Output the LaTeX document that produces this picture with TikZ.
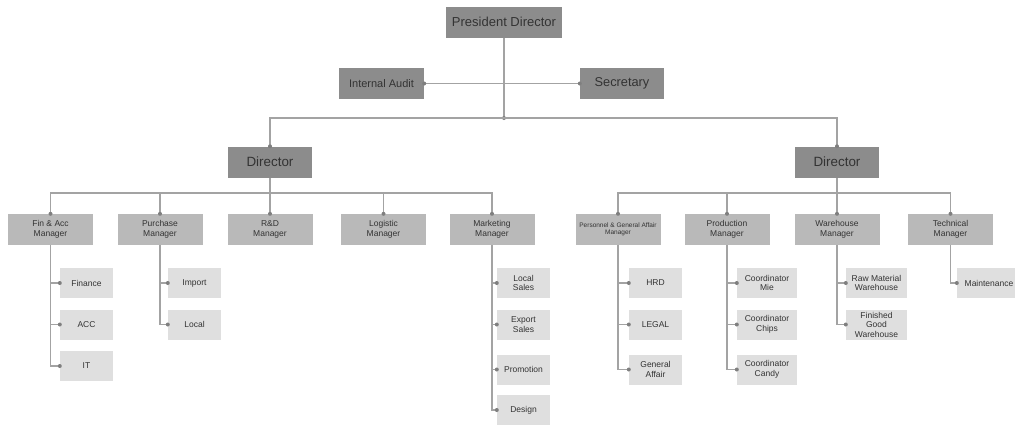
\documentclass[tikz,border=0pt]{standalone}
\usepackage{fontspec}
\setmainfont{Liberation Sans}
\definecolor{darkbox}{HTML}{8C8C8C}
\definecolor{midbox}{HTML}{B9B9B9}
\definecolor{lightbox}{HTML}{DFDFDF}
\definecolor{linec}{HTML}{A3A3A3}
\definecolor{dotc}{HTML}{7F7F7F}
\definecolor{txt}{HTML}{333333}
\tikzset{
  topbox/.style={fill=darkbox, text=txt, inner sep=0pt, minimum height=31pt, align=center},
  mgrbox/.style={fill=midbox, text=txt, inner sep=0pt, minimum width=85pt, minimum height=31pt, align=center, font=\fontsize{8.5}{9.5}\selectfont},
  subbox/.style={fill=lightbox, text=txt, inner sep=0pt, minimum height=30pt, align=center, font=\fontsize{8.5}{9.5}\selectfont},
  conn/.style={draw=linec, line width=1.3pt},
  enddot/.style={circle, fill=dotc, inner sep=0pt, minimum size=4pt},
}
\begin{document}
\begin{tikzpicture}[x=1pt, y=-1pt]
\useasboundingbox (0,0) rectangle (1015,424);
\clip (0,0) rectangle (1015,424);
\fill[white] (0,0) rectangle (1015,424);

% top level
\node[topbox, minimum width=116pt, font=\fontsize{13}{15}\selectfont] (pres) at (504,22) {President Director};
\node[topbox, minimum width=85pt, font=\fontsize{11}{13}\selectfont] (audit) at (381.5,83.5) {Internal Audit};
\node[topbox, minimum width=84pt, font=\fontsize{12.8}{15}\selectfont] (sec) at (622,83.5) {Secretary};
\node[topbox, minimum width=84pt, font=\fontsize{13.4}{15}\selectfont] (dirL) at (270,162) {Director};
\node[topbox, minimum width=84pt, font=\fontsize{13.4}{15}\selectfont] (dirR) at (837,162) {Director};

% managers
\node[mgrbox] (fin) at (50.5,229.5) {Fin \& Acc\\Manager};
\node[mgrbox] (pur) at (160,229.5) {Purchase\\Manager};
\node[mgrbox] (rnd) at (270,229.5) {R\&D\\Manager};
\node[mgrbox] (log) at (383.5,229.5) {Logistic\\Manager};
\node[mgrbox] (mkt) at (492,229.5) {Marketing\\Manager};
\node[mgrbox, font=\fontsize{6.5}{7.5}\selectfont] (pga) at (618,229.5) {Personnel \& General Affair\\Manager};
\node[mgrbox] (prod) at (727,229.5) {Production\\Manager};
\node[mgrbox] (wh) at (837,229.5) {Warehouse\\Manager};
\node[mgrbox] (tech) at (950.5,229.5) {Technical\\Manager};

% sub units
\node[subbox, minimum width=53pt] (finance) at (86.5,283) {Finance};
\node[subbox, minimum width=53pt] (acc) at (86.5,324.5) {ACC};
\node[subbox, minimum width=53pt] (it) at (86.5,366) {IT};

\node[subbox, minimum width=53pt] (import) at (194.5,283) {Import};
\node[subbox, minimum width=53pt] (local) at (194.5,324.5) {Local};

\node[subbox, minimum width=53pt] (lsales) at (523.5,283) {Local\\Sales};
\node[subbox, minimum width=53pt] (esales) at (523.5,324.5) {Export\\Sales};
\node[subbox, minimum width=53pt] (promo) at (523.5,369.5) {Promotion};
\node[subbox, minimum width=53pt] (design) at (523.5,410) {Design};

\node[subbox, minimum width=53pt] (hrd) at (655.5,283) {HRD};
\node[subbox, minimum width=53pt] (legal) at (655.5,324.5) {LEGAL};
\node[subbox, minimum width=53pt] (ga) at (655.5,369.5) {General\\Affair};

\node[subbox, minimum width=60pt] (cmie) at (767,283) {Coordinator\\Mie};
\node[subbox, minimum width=60pt] (cchips) at (767,324.5) {Coordinator\\Chips};
\node[subbox, minimum width=60pt] (ccandy) at (767,369.5) {Coordinator\\Candy};

\node[subbox, minimum width=61pt] (raw) at (876.5,283) {Raw Material\\Warehouse};
\node[subbox, minimum width=61pt] (fgw) at (876.5,324.5) {Finished\\Good\\Warehouse};

\node[subbox, minimum width=64pt] (maint) at (989,283) {Maintenance};

% helper coordinates
\coordinate (hub) at (504,118);
\coordinate (busL) at (270,193);
\coordinate (busR) at (837,193);

% top connectors
\draw[conn] (pres.south) -- (hub);
\node[enddot] at (hub) {};
\draw[conn] (audit.east) -- (sec.west);
\node[enddot] at (audit.east) {};
\node[enddot] at (sec.west) {};
\draw[conn] (dirL.north) |- (hub) -| (dirR.north);
\node[enddot] at (dirL.north) {};
\node[enddot] at (dirR.north) {};

% director to managers
\draw[conn] (dirL.south) -- (busL);
\draw[conn] (fin.north) |- (busL) -| (mkt.north);
\draw[conn] (pur.north) -- (pur.north |- busL);
\draw[conn] (rnd.north) -- (busL);
\draw[conn] (log.north) -- (log.north |- busL);
\draw[conn] (dirR.south) -- (busR);
\draw[conn] (pga.north) |- (busR) -| (tech.north);
\draw[conn] (prod.north) -- (prod.north |- busR);
\draw[conn] (wh.north) -- (busR);
\foreach \m in {fin,pur,rnd,log,mkt,pga,prod,wh,tech} {
  \node[enddot] at (\m.north) {};
}

% managers to sub units
\foreach \m/\s in {fin/finance,fin/acc,fin/it,pur/import,pur/local,mkt/lsales,mkt/esales,mkt/promo,mkt/design,pga/hrd,pga/legal,pga/ga,prod/cmie,prod/cchips,prod/ccandy,wh/raw,wh/fgw,tech/maint} {
  \draw[conn] (\m.south) |- (\s.west);
  \node[enddot] at (\s.west) {};
}
\end{tikzpicture}
\end{document}
